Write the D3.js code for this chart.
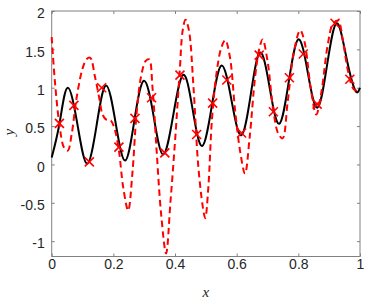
<!DOCTYPE html>
<html>
<head>
<meta charset="utf-8">
<script src="https://cdn.jsdelivr.net/npm/d3@7"></script>
<style>
  body { margin: 0; background: #fff; }
  svg { display: block; }
  .tick text { font-family: "Liberation Sans", Arial, sans-serif; font-size: 14px; fill: #262626; }
  .axis-label { font-family: "Liberation Serif", "DejaVu Serif", serif; font-style: italic; font-size: 15px; fill: #262626; }
</style>
</head>
<body>
<svg id="contenedor"></svg>
<script>
// ticks de los ejes
let xTicks = [0, 0.2, 0.4, 0.6, 0.8, 1];
let yTicks = [-1, -0.5, 0, 0.5, 1, 1.5, 2];

let trueX = [0.000, 0.026, 0.052, 0.084, 0.115, 0.146, 0.176, 0.207, 0.238, 0.268,
             0.299, 0.331, 0.362, 0.395, 0.427, 0.457, 0.488, 0.520, 0.551, 0.583,
             0.615, 0.646, 0.676, 0.707, 0.738, 0.769, 0.800, 0.831, 0.862, 0.893,
             0.924, 0.955, 0.984, 1.000];
let trueY = [0.09, 0.55, 1.00, 0.51, 0.01, 0.52, 1.03, 0.55, 0.05, 0.57,
             1.09, 0.62, 0.13, 0.66, 1.17, 0.72, 0.24, 0.78, 1.29, 0.84,
             0.38, 0.92, 1.46, 1.00, 0.53, 1.08, 1.63, 1.19, 0.74, 1.29,
             1.84, 1.41, 0.97, 1.00];

// curva roja discontinua (ajuste)
let fitX = [0.000, 0.010, 0.025, 0.040, 0.052, 0.065, 0.080, 0.100, 0.113, 0.125,
            0.140, 0.155, 0.165, 0.178, 0.192, 0.205, 0.218, 0.232, 0.248, 0.262,
            0.275, 0.290, 0.305, 0.316, 0.327, 0.340, 0.355, 0.371, 0.385, 0.400,
            0.415, 0.425, 0.434, 0.445, 0.460, 0.475, 0.490, 0.498, 0.508, 0.520,
            0.535, 0.550, 0.563, 0.578, 0.595, 0.612, 0.627, 0.642, 0.660, 0.673,
            0.684, 0.700, 0.719, 0.735, 0.749, 0.765, 0.785, 0.806, 0.820, 0.840,
            0.858, 0.875, 0.895, 0.912, 0.929, 0.945, 0.962, 0.980, 1.000];
let fitY = [1.66, 1.10, 0.52, 0.22, 0.18, 0.40, 0.85, 1.25, 1.37, 1.39,
            1.15, 0.85, 0.65, 0.58, 0.57, 0.45, 0.18, -0.30, -0.60, -0.10,
            0.65, 1.15, 1.35, 1.37, 1.00, 0.20, -0.65, -1.16, -0.50, 0.30,
            1.20, 1.75, 1.885, 1.75, 1.00, 0.00, -0.55, -0.70, -0.30, 0.60,
            1.20, 1.52, 1.62, 1.40, 0.70, 0.15, -0.12, 0.35, 1.15, 1.50,
            1.63, 1.35, 0.70, 0.40, 0.34, 0.80, 1.45, 1.75, 1.60, 1.00,
            0.65, 0.95, 1.55, 1.83, 1.875, 1.60, 1.20, 0.98, 0.95];

// puntos muestreados (marcadores x)
let sampleX = [0.025, 0.072, 0.122, 0.162, 0.218, 0.270, 0.324, 0.367, 0.416, 0.470,
               0.522, 0.568, 0.616, 0.673, 0.719, 0.771, 0.816, 0.861, 0.919, 0.967];
let sampleY = [0.535, 0.77, 0.034, 1.00, 0.225, 0.60, 0.87, 0.15, 1.165, 0.39,
               0.80, 1.10, 0.41, 1.425, 0.686, 1.13, 1.44, 0.786, 1.84, 1.11];

/* ################ CONFIGURACION AREA DE DIBUJO ################ */
function getConfig() {
  let width = 374;
  let height = 299;
  let margin = { top: 11, bottom: 42.5, left: 51.7, right: 14 };
  let bodyWidth = width - margin.left - margin.right;
  let bodyHeight = height - margin.top - margin.bottom;
  let container = d3.select("#contenedor").attr("width", width).attr("height", height);
  return { width, height, margin, bodyWidth, bodyHeight, container };
}

function getScales(config) {
  let { margin, width, height } = config;
  let xScale = d3.scaleLinear().domain([0, 1]).range([margin.left, width - margin.right]);
  let yScale = d3.scaleLinear().domain([-1.2, 2]).range([height - margin.bottom, margin.top]);
  return { xScale, yScale };
}

/* ################ EJES ################ */
function drawAxes(scales, config) {
  let { xScale, yScale } = scales;
  let { container, margin, width, height } = config;
  let fmt = (d) => String(d);
  let axisColor = "#808080";

  let gx = container.append("g")
    .attr("transform", `translate(0, ${height - margin.bottom})`)
    .call(d3.axisBottom(xScale).tickValues(xTicks).tickFormat(fmt).tickSize(-3).tickSizeOuter(0).tickPadding(3));
  let gxTop = container.append("g")
    .attr("transform", `translate(0, ${margin.top})`)
    .call(d3.axisTop(xScale).tickValues(xTicks).tickFormat("").tickSize(-3).tickSizeOuter(0));
  let gy = container.append("g")
    .attr("transform", `translate(${margin.left}, 0)`)
    .call(d3.axisLeft(yScale).tickValues(yTicks).tickFormat(fmt).tickSize(-3).tickSizeOuter(0).tickPadding(7));
  let gyRight = container.append("g")
    .attr("transform", `translate(${width - margin.right}, 0)`)
    .call(d3.axisRight(yScale).tickValues(yTicks).tickFormat("").tickSize(-3).tickSizeOuter(0));

  gy.selectAll(".tick text").attr("dy", "0.48em");

  [gx, gxTop, gy, gyRight].forEach((g) => {
    g.select(".domain").remove();
    g.selectAll(".tick line").attr("stroke", axisColor);
  });

  // caja
  container.append("rect")
    .attr("x", xScale(0)).attr("y", yScale(2))
    .attr("width", xScale(1) - xScale(0)).attr("height", yScale(-1.2) - yScale(2))
    .attr("fill", "none").attr("stroke", axisColor).attr("stroke-width", 1);

  // etiquetas de ejes
  container.append("text").attr("class", "axis-label")
    .attr("x", (xScale(0) + xScale(1)) / 2).attr("y", 297)
    .attr("text-anchor", "middle").text("x");
  container.append("text").attr("class", "axis-label")
    .attr("transform", `translate(14, ${yScale(0.42)}) rotate(-90)`)
    .attr("text-anchor", "middle").text("y");
}

/* ################ CURVAS Y MARCADORES ################ */
function drawCurves(scales, config) {
  let { xScale, yScale } = scales;
  let { container } = config;

  let trueData = trueX.map((x, i) => ({ x: x, y: trueY[i] }));
  let fitData = fitX.map((x, i) => ({ x: x, y: fitY[i] }));
  let samples = sampleX.map((x, i) => ({ x: x, y: sampleY[i] }));

  let lineTrue = d3.line().x((d) => xScale(d.x)).y((d) => yScale(d.y)).curve(d3.curveNatural);
  let lineFit = d3.line().x((d) => xScale(d.x)).y((d) => yScale(d.y)).curve(d3.curveCatmullRom.alpha(0.5));

  container.append("path").datum(trueData)
    .attr("d", lineTrue).attr("fill", "none")
    .attr("stroke", "#000").attr("stroke-width", 2);

  container.append("path").datum(fitData)
    .attr("d", lineFit).attr("fill", "none")
    .attr("stroke", "#ff0000").attr("stroke-width", 2)
    .attr("stroke-dasharray", "6.5,4");

  // marcadores en forma de x
  let s = 4.5;
  let marks = container.append("g").selectAll("g").data(samples).enter().append("g")
    .attr("stroke", "#ff0000").attr("stroke-width", 1.6);
  marks.append("line")
    .attr("x1", (d) => xScale(d.x) - s).attr("y1", (d) => yScale(d.y) - s)
    .attr("x2", (d) => xScale(d.x) + s).attr("y2", (d) => yScale(d.y) + s);
  marks.append("line")
    .attr("x1", (d) => xScale(d.x) - s).attr("y1", (d) => yScale(d.y) + s)
    .attr("x2", (d) => xScale(d.x) + s).attr("y2", (d) => yScale(d.y) - s);
}

let config = getConfig();
let scales = getScales(config);
drawAxes(scales, config);
drawCurves(scales, config);
</script>
</body>
</html>
